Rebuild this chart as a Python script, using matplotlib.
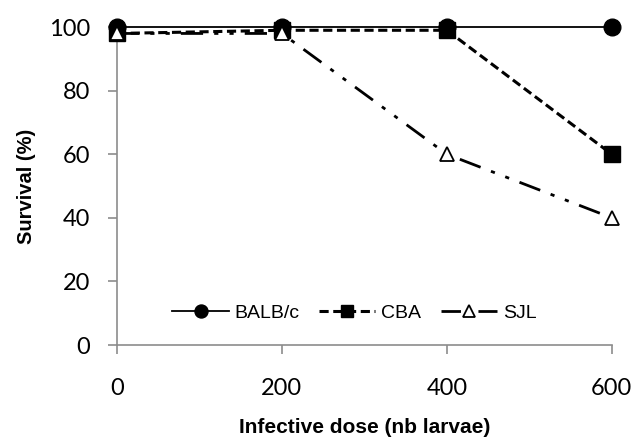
import matplotlib
matplotlib.use("Agg")
import matplotlib.pyplot as plt
from matplotlib.lines import Line2D

doses = [0, 200, 400, 600]
balbc = [100, 100, 100, 100]
cba = [98, 99, 99, 60]
sjl = [98, 98, 60, 40]
xticks = [0, 200, 400, 600]
yticks = [0, 20, 40, 60, 80, 100]

fig = plt.figure(figsize=(6.34, 4.37), dpi=100)
ax = fig.add_axes([0.1845, 0.2105, 0.7805, 0.7275])

h1, = ax.plot(doses, balbc, '-', color='black', lw=1.3, marker='o', ms=12,
              mfc='black', mec='black', label='BALB/c', clip_on=False, zorder=3)
h2, = ax.plot(doses, cba, '--', color='black', lw=2.2, marker='s', ms=11,
              mfc='black', mec='black', label='CBA', clip_on=False, zorder=4,
              dashes=(3, 1.5))
ax.plot(doses, sjl, color='black', lw=2.0, marker='^', ms=10.5,
        mfc='white', mec='black', mew=1.3, label='SJL', clip_on=False,
        zorder=5, dashes=(8, 4, 1.5, 4, 1.5, 4))
h3 = Line2D([], [], color='black', lw=2.0, marker='^', ms=10.5,
            mfc='white', mec='black', mew=1.3, dashes=(7, 6.3))

ax.set_xlim(0, 600)
ax.set_ylim(0, 100)
ax.set_xticks(xticks)
ax.set_yticks(yticks)
tickfont = dict(family=['Lato', 'DejaVu Sans'], size=17)
ax.set_xticklabels([str(v) for v in xticks], fontdict=tickfont)
ax.set_yticklabels([str(v) for v in yticks], fontdict=tickfont)
ax.tick_params(axis='x', direction='out', length=6.5, width=1.2, color='#8c8c8c', pad=17)
ax.tick_params(axis='y', direction='out', length=6.5, width=1.2, color='#8c8c8c', pad=13)
for s in ['top', 'right']:
    ax.spines[s].set_visible(False)
for s in ['left', 'bottom']:
    ax.spines[s].set_color('#8c8c8c')
    ax.spines[s].set_linewidth(1.2)

ax.set_xlabel('Infective dose (nb larvae)', family=['Liberation Sans'],
              fontweight='bold', fontsize=15, labelpad=14)
ax.set_ylabel('Survival (%)', family=['Liberation Sans'],
              fontweight='bold', fontsize=14.5, labelpad=9)

leg = ax.legend([h1, h2, h3], ['BALB/c', 'CBA', 'SJL'],
                loc='center', bbox_to_anchor=(0.48, 0.10), ncol=3, frameon=False,
                prop={'family': 'Liberation Sans', 'size': 14},
                handlelength=2.9, columnspacing=1.0, handletextpad=0.3,
                markerscale=0.78)

fig.savefig('out.png', dpi=100)
